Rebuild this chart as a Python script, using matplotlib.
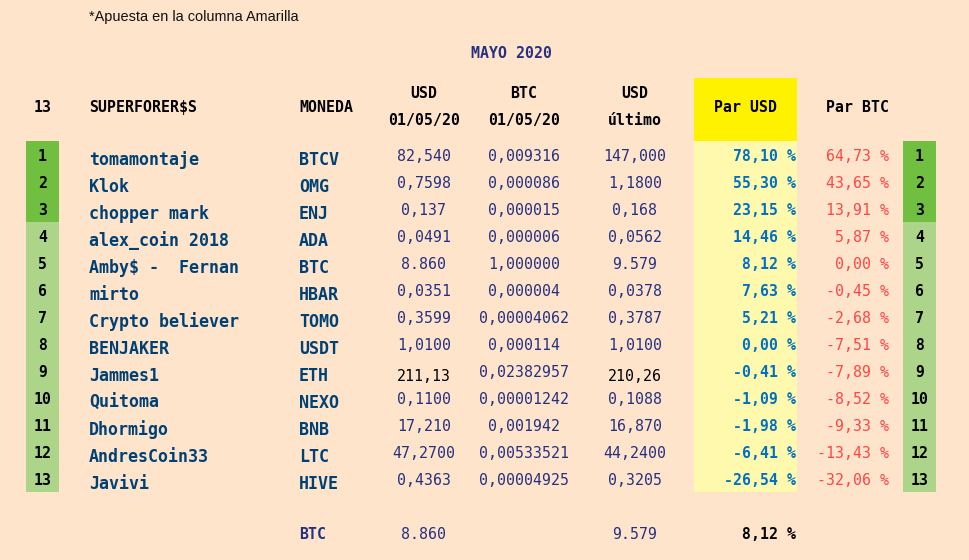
import matplotlib
matplotlib.use("Agg")
import matplotlib.pyplot as plt
from matplotlib.patches import Rectangle

names = ["tomamontaje", "Klok", "chopper mark", "alex_coin 2018", "Amby$ -  Fernan", "mirto",
         "Crypto believer", "BENJAKER", "Jammes1", "Quitoma", "Dhormigo", "AndresCoin33", "Javivi"]
coins = ["BTCV", "OMG", "ENJ", "ADA", "BTC", "HBAR", "TOMO", "USDT", "ETH", "NEXO", "BNB", "LTC", "HIVE"]
usd_start = ["82,540", "0,7598", "0,137", "0,0491", "8.860", "0,0351", "0,3599", "1,0100", "211,13",
             "0,1100", "17,210", "47,2700", "0,4363"]
btc_start = ["0,009316", "0,000086", "0,000015", "0,000006", "1,000000", "0,000004", "0,00004062",
             "0,000114", "0,02382957", "0,00001242", "0,001942", "0,00533521", "0,00004925"]
usd_last = ["147,000", "1,1800", "0,168", "0,0562", "9.579", "0,0378", "0,3787", "1,0100", "210,26",
            "0,1088", "16,870", "44,2400", "0,3205"]
par_usd = ["78,10 %", "55,30 %", "23,15 %", "14,46 %", "8,12 %", "7,63 %", "5,21 %", "0,00 %",
           "-0,41 %", "-1,09 %", "-1,98 %", "-6,41 %", "-26,54 %"]
par_btc = ["64,73 %", "43,65 %", "13,91 %", "5,87 %", "0,00 %", "-0,45 %", "-2,68 %", "-7,51 %",
           "-7,89 %", "-8,52 %", "-9,33 %", "-13,43 %", "-32,06 %"]
black_coins = ["ETH"]

BG = "#FFE4CC"
NAVY = "#253080"
NAME = "#004175"
BLUE = "#0070C0"
RED = "#FF4545"
DARK_GREEN = "#70BF41"
LIGHT_GREEN = "#ADD58A"
MONO = "DejaVu Sans Mono"
FS = 10.75
FS_BIG = 11.95

fig = plt.figure(figsize=(9.69, 5.6), dpi=100, facecolor=BG)
ax = fig.add_axes([0, 0, 1, 1])
ax.set_xlim(0, 969)
ax.set_ylim(560, 0)
ax.axis("off")


def box(x0, x1, y0, y1, color):
    ax.add_patch(Rectangle((x0, y0), x1 - x0, y1 - y0, facecolor=color, edgecolor="none"))


def txt(x, y, s, color="black", ha="center", weight="normal", size=FS):
    ax.text(x, y, s, color=color, ha=ha, va="baseline", family=MONO, fontsize=size, fontweight=weight)


# fills
box(694, 797, 78, 141, "#FFF200")
box(694, 797, 141, 492, "#FFF9AE")
for x0 in (26, 903):
    box(x0, x0 + 33, 141, 222, DARK_GREEN)
    box(x0, x0 + 33, 222, 492, LIGHT_GREEN)

# top
ax.text(89, 21, "*Apuesta en la columna Amarilla", color="#111111", family="Liberation Sans",
        fontsize=10.45, va="baseline")
txt(512, 58, "MAYO 2020", NAVY, weight="bold")

# header
txt(43, 112, "13", weight="bold")
txt(89, 112, "SUPERFORER$S", ha="left", weight="bold")
txt(299, 112, "MONEDA", ha="left", weight="bold")
txt(424, 98, "USD", weight="bold")
txt(424, 125, "01/05/20", weight="bold")
txt(524, 98, "BTC", weight="bold")
txt(524, 125, "01/05/20", weight="bold")
txt(635, 98, "USD", weight="bold")
txt(635, 125, "último", weight="bold")
txt(745.5, 112, "Par USD", weight="bold")
txt(857.5, 112, "Par BTC", weight="bold")

# rows
for i in range(len(names)):
    y = 161 + 27 * i
    txt(42.5, y, str(i + 1), weight="bold")
    txt(919.5, y, str(i + 1), weight="bold")
    txt(89, y + 4, names[i], NAME, ha="left", weight="bold", size=FS_BIG)
    txt(299, y + 4, coins[i], NAME, ha="left", weight="bold", size=FS_BIG)
    if coins[i] in black_coins:
        txt(424, y + 4, usd_start[i])
        txt(635, y + 4, usd_last[i])
    else:
        txt(424, y, usd_start[i], NAVY)
        txt(635, y, usd_last[i], NAVY)
    txt(524, y, btc_start[i], NAVY)
    txt(796.5, y, par_usd[i], BLUE, ha="right", weight="bold")
    txt(889, y, par_btc[i], RED, ha="right")

# bottom row
txt(299, 539, "BTC", NAVY, ha="left", weight="bold")
txt(424, 539, usd_start[4], NAVY)
txt(635, 539, usd_last[4], NAVY)
txt(796.5, 539, par_usd[4], ha="right", weight="bold")

fig.savefig("out.png", dpi=100, facecolor=BG)
